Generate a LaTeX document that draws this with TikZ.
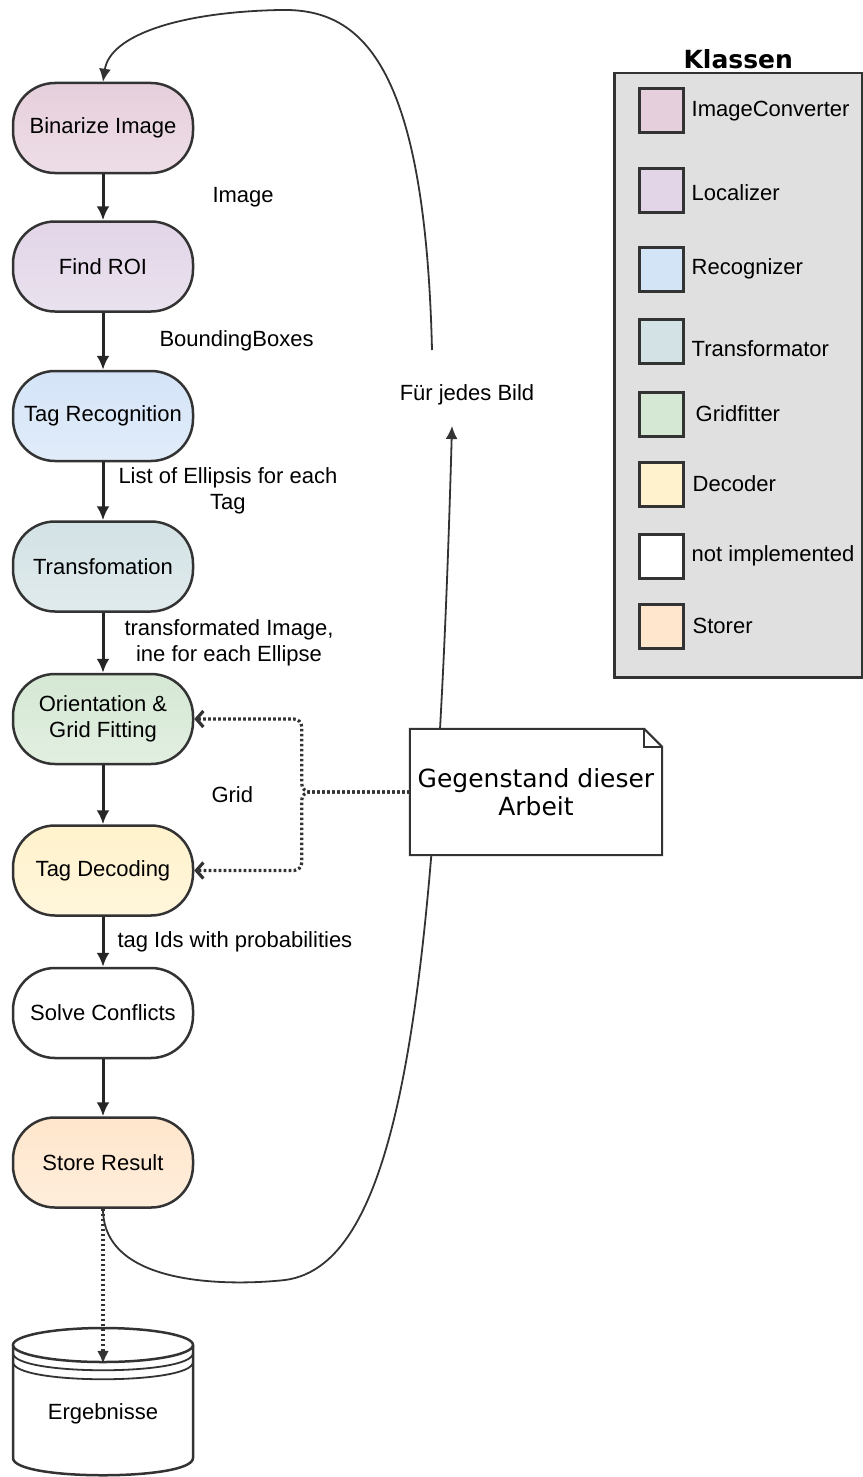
\documentclass[tikz,border=0pt]{standalone}
\usepackage{fontspec}
\setmainfont{Liberation Sans}
\newfontfamily\notefont{DejaVu Sans}
\usepackage{tikz}
\usetikzlibrary{positioning, arrows.meta, calc}
\definecolor{convcol}{HTML}{E6CFDC}
\definecolor{loccol}{HTML}{E1D5E7}
\definecolor{reccol}{HTML}{D4E4F7}
\definecolor{trancol}{HTML}{D3E2E5}
\definecolor{gridcol}{HTML}{D5E8D4}
\definecolor{deccol}{HTML}{FFF2CC}
\definecolor{storcol}{HTML}{FFE6CC}
\definecolor{legendbg}{HTML}{E0E0E0}
\definecolor{linecol}{HTML}{333333}
\tikzstyle{stage} = [rectangle, rounded corners=42pt, minimum width=180pt, minimum height=90pt, draw=linecol, line width=2.5pt, align=center]
\tikzstyle{lbl} = [align=center, inner sep=0pt]
\tikzstyle{arrow} = [line width=3pt, draw=black!85, -{Latex[length=14pt,width=13pt]}]
\tikzstyle{dotarrow} = [line width=3.2pt, draw=linecol, dash pattern=on 2.6pt off 2.4pt, rounded corners=8pt, -{Straight Barb[length=7pt,width=16pt]}]
\tikzstyle{dotstore} = [line width=3.2pt, draw=linecol, dash pattern=on 2.6pt off 2.4pt, -{Latex[length=13pt,width=12pt]}]
\tikzstyle{loopline} = [line width=1.8pt, draw=linecol, -{Latex[length=13pt,width=12pt]}]
\tikzstyle{legsq} = [rectangle, minimum size=44pt, inner sep=0pt, draw=linecol, line width=3pt]
\tikzstyle{legtxt} = [inner sep=0pt, anchor=west]
\tikzstyle{notebox} = [rectangle, minimum width=252pt, minimum height=126pt, fill=white, align=center, font=\notefont\fontsize{25}{28}\selectfont]
\tikzstyle{dbline} = [line width=2.5pt, draw=linecol]
\tikzset{fillc/.style={top color=#1, bottom color=#1!70!white}}

\begin{document}
\begin{tikzpicture}[x=1pt, y=-1pt, font=\fontsize{22}{26}\selectfont]
\path [fill=white] (0,0) rectangle (862,1477);
\useasboundingbox (0,0) rectangle (862,1477);

% pipeline
\node (binarize) [stage, fillc=convcol] at (103,128) {Binarize Image};
\node (find_roi) [stage, fillc=loccol, below=46pt of binarize] {Find ROI};
\node (tag_rec) [stage, fillc=reccol, below=57pt of find_roi] {Tag Recognition};
\node (transform) [stage, fillc=trancol, below=58pt of tag_rec] {Transfomation};
\node (orient) [stage, fillc=gridcol, below=60pt of transform] {Orientation \&\\Grid Fitting};
\node (decode) [stage, fillc=deccol, below=59pt of orient] {Tag Decoding};
\node (solve) [stage, fill=white, below=50pt of decode] {Solve Conflicts};
\node (store) [stage, fillc=storcol, below=57pt of solve] {Store Result};
\draw [arrow] (binarize) -- node[lbl, right=108pt] {Image} (find_roi);
\draw [arrow] (find_roi) -- node[lbl, right=55pt] {BoundingBoxes} (tag_rec);
\draw [arrow] (tag_rec) -- node[lbl, right=14pt] {List of Ellipsis for each\\Tag} (transform);
\draw [arrow] (transform) -- node[lbl, right=20pt] {transformated Image,\\ine for each Ellipse} (orient);
\draw [arrow] (orient) -- node[lbl, right=107pt] {Grid} (decode);
\draw [arrow] (decode) -- node[lbl, right=13pt] {tag Ids with probabilities} (solve);
\draw [arrow] (solve) -- (store);

% result store
\node (results) [minimum width=180pt, minimum height=120pt] at (103,1414) {Ergebnisse};
\draw [dbline] (13,1345) -- (13,1458) .. controls (13,1481) and (193,1481) .. (193,1458) -- (193,1345);
\draw [dbline] (103,1345) ellipse [x radius=90, y radius=17];
\draw [dbline, line width=1.8pt] (13,1353) .. controls (13,1376) and (193,1376) .. (193,1353);
\draw [dbline, line width=1.8pt] (13,1362) .. controls (13,1385) and (193,1385) .. (193,1362);
\draw [dotstore, shorten >=-10pt] (store) -- (results);

% loop over images
\node (loop_lbl) [lbl] at (467,395) {Für jedes Bild};
\coordinate (loop_in) at (452,426);
\coordinate (loop_out) at (432,350);
\draw [loopline] (store.south) .. controls (103,1290) and (240,1285) .. (285,1280) .. controls (400,1265) and (436,1000) .. (loop_in);
\draw [loopline] (loop_out) .. controls (425,60) and (360,8) .. (280,10) .. controls (180,12) and (110,35) .. (binarize.north);

% note
\node (note) [notebox] at (536,792) {Gegenstand dieser\\Arbeit};
\draw [dbline, line width=2pt] (note.north west) -- ($(note.north east)+(-18,0)$) -- ($(note.north east)+(0,18)$) -- (note.south east) -- (note.south west) -- cycle;
\draw [dbline, line width=2pt] ($(note.north east)+(-18,0)$) -- ($(note.north east)+(-18,18)$) -- ($(note.north east)+(0,18)$);
\draw [dotarrow] (note.west) -- ++(-108,0) |- (orient.east);
\draw [dotarrow] (note.west) -- ++(-108,0) |- (decode.east);

% legend
\node (legend) [draw=linecol, line width=2.5pt, fill=legendbg, minimum width=248pt, minimum height=604pt, anchor=north west] at (613,72) {};
\node (legend_title) [above=3pt of legend, inner sep=0pt, font=\notefont\bfseries\fontsize{25}{28}\selectfont] {Klassen};
\node (sq_conv) [legsq, fill=convcol] at (661,111) {};
\node (txt_conv) [legtxt, right=7pt of sq_conv] {ImageConverter};
\node (sq_loc) [legsq, fill=loccol] at (661,190) {};
\node (txt_loc) [legtxt, right=7pt of sq_loc, yshift=-3pt] {Localizer};
\node (sq_rec) [legsq, fill=reccol] at (661,269) {};
\node (txt_rec) [legtxt, right=7pt of sq_rec] {Recognizer};
\node (sq_tran) [legsq, fill=trancol] at (661,341) {};
\node (txt_tran) [legtxt, right=7pt of sq_tran, yshift=-8pt] {Transformator};
\node (sq_grid) [legsq, fill=gridcol] at (661,414) {};
\node (txt_grid) [legtxt, right=11pt of sq_grid] {Gridfitter};
\node (sq_dec) [legsq, fill=deccol] at (661,484) {};
\node (txt_dec) [legtxt, right=8pt of sq_dec] {Decoder};
\node (sq_none) [legsq, fill=white] at (661,556) {};
\node (txt_none) [legtxt, right=7pt of sq_none] {not implemented};
\node (sq_stor) [legsq, fill=storcol] at (661,626) {};
\node (txt_stor) [legtxt, right=8pt of sq_stor] {Storer};
\end{tikzpicture}
\end{document}
